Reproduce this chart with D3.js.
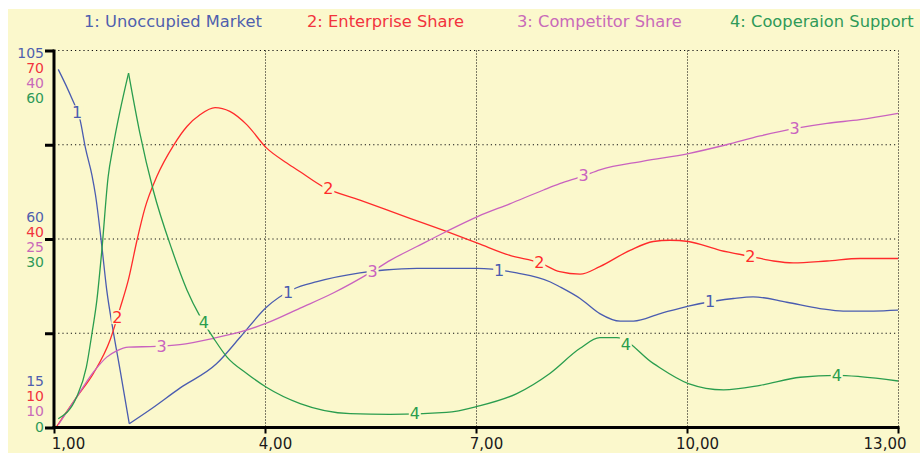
<!DOCTYPE html>
<html>
<head>
<meta charset="utf-8">
<script src="https://cdn.jsdelivr.net/npm/d3@7"></script>
<style>
  html, body { margin: 0; padding: 0; background: #ffffff; }
  svg { display: block; }
  text { font-family: "DejaVu Sans", Verdana, sans-serif; }
</style>
</head>
<body>
<svg id="chart" width="920" height="453"></svg>
<script>
// ---- data -------------------------------------------------------------
const seriesNames = [
  "1: Unoccupied Market",
  "2: Enterprise Share",
  "3: Competitor Share",
  "4: Cooperaion Support"
];

// [time, value] samples of each simulated stock
const unoccupiedMarket = [
  [1.06, 100.5], [1.25, 93.7], [1.37, 88.5], [1.45, 81.5], [1.54, 75.2],
  [1.59, 70.5], [1.68, 58.3], [1.75, 47.8], [1.84, 38.2], [1.94, 28.7],
  [2.07, 15.9], [2.37, 19.3], [2.79, 24.4], [3.31, 30.2], [3.65, 36.6],
  [4.02, 43.7], [4.40, 48.0], [4.74, 49.8], [5.35, 51.9], [5.70, 52.6],
  [6.16, 53.0], [7.01, 53.0], [7.58, 51.9], [8.05, 49.8], [8.19, 48.6],
  [8.48, 45.8], [8.76, 42.2], [9.05, 40.4], [9.24, 40.4], [9.62, 42.2],
  [10.02, 44.0], [10.40, 45.2], [10.66, 45.8], [10.94, 46.2], [11.42, 44.9],
  [11.89, 43.4], [12.22, 42.8], [12.65, 42.8], [13.0, 43.0]
];

const enterpriseShare = [
  [1.04, 10.2], [1.32, 14.8], [1.56, 18.6], [1.80, 24.0], [1.94, 29.0],
  [2.06, 33.6], [2.18, 39.8], [2.29, 44.8], [2.46, 49.9], [2.70, 54.9],
  [2.89, 57.9], [3.08, 59.8], [3.29, 60.9], [3.50, 60.3], [3.74, 58.2],
  [4.02, 54.5], [4.31, 52.1], [4.50, 50.7], [4.83, 48.3], [5.35, 46.2],
  [6.06, 43.3], [6.58, 41.2], [7.03, 39.3], [7.48, 37.4], [7.91, 36.2],
  [8.19, 34.8], [8.48, 34.4], [8.76, 35.6], [9.19, 38.2], [9.52, 39.6],
  [9.76, 39.8], [10.02, 39.6], [10.47, 38.2], [10.92, 37.2], [11.23, 36.5],
  [11.51, 36.2], [11.99, 36.5], [12.46, 36.9], [13.0, 36.9]
];

const competitorShare = [
  [1.06, 10.2], [1.32, 12.4], [1.56, 14.4], [1.75, 15.6], [1.89, 16.1],
  [2.06, 16.4], [2.45, 16.45], [2.79, 16.6], [3.27, 17.1], [3.65, 17.6],
  [4.02, 18.3], [4.50, 19.5], [4.97, 20.7], [5.52, 22.4], [5.78, 23.3],
  [6.16, 24.4], [6.58, 25.6], [7.03, 26.8], [7.48, 27.8], [7.96, 28.9],
  [8.19, 29.4], [8.52, 30.0], [8.76, 30.5], [9.38, 31.2], [10.02, 31.8],
  [10.56, 32.5], [11.04, 33.2], [11.54, 33.8], [11.99, 34.2], [12.46, 34.5],
  [13.0, 35.0]
];

const cooperationSupport = [
  [1.06, 1.4], [1.32, 4.8], [1.46, 9.6], [1.54, 15.0], [1.61, 20.3],
  [1.68, 28.2], [1.77, 39.9], [1.84, 44.7], [2.06, 56.4], [2.22, 46.9],
  [2.41, 37.8], [2.68, 28.2], [2.89, 21.9], [3.08, 17.6], [3.27, 14.2],
  [3.46, 11.2], [3.74, 8.6], [4.02, 6.4], [4.50, 3.8], [5.21, 2.2],
  [5.78, 2.1], [6.58, 2.4], [7.03, 3.4], [7.58, 5.4], [8.05, 8.6],
  [8.48, 12.6], [8.76, 14.3], [9.0, 14.3], [9.52, 10.2], [10.02, 7.0],
  [10.52, 6.0], [11.04, 6.7], [11.61, 8.0], [12.13, 8.3], [12.46, 8.1],
  [13.0, 7.4]
];

// scale labels of the left axis, one entry per series
const axisTopLabels    = [105, 70, 40, 60];
const axisMiddleLabels = [60, 40, 25, 30];
const axisBottomLabels = [15, 10, 10, 0];

const timeTicks = [1, 4, 7, 10, 13];

// times at which each curve carries its series number
const curveLabelTimes = [
  [1.33, 4.33, 7.33, 10.33],
  [1.90, 4.90, 7.90, 10.90],
  [2.53, 5.53, 8.53, 11.53],
  [3.13, 6.13, 9.13, 12.13]
];

// ---- styles -----------------------------------------------------------
const lineColors  = ["#4a5cb0", "#ff2b2b", "#c962bf", "#2a9d4e"];
const labelColors = ["#4f5fae", "#f2333d", "#c96ab9", "#2f9a58"];
const bgColor = "#fbf8cc";

// ---- layout -----------------------------------------------------------
const W = 920, H = 453;
const plot = { left: 54, right: 898, top: 50.5, bottom: 427.5 };

const svg = d3.select("#chart");
svg.append("rect")
  .attr("x", 8).attr("y", 9)
  .attr("width", W - 8).attr("height", H - 9)
  .attr("fill", bgColor);

const series = [unoccupiedMarket, enterpriseShare, competitorShare, cooperationSupport];

const x = d3.scaleLinear().domain([1, 13]).range([plot.left, plot.right]);
const yScales = axisBottomLabels.map((lo, i) =>
  d3.scaleLinear().domain([lo, axisTopLabels[i]]).range([plot.bottom, plot.top]));

// five equally spaced grid levels, expressed on the first series' scale
const gridValues = d3.range(5).map(i =>
  axisBottomLabels[0] + i * (axisTopLabels[0] - axisBottomLabels[0]) / 4);

// ---- grid -------------------------------------------------------------
const grid = svg.append("g");
grid.selectAll("line.h")
  .data(gridValues.slice(1))
  .join("line")
  .attr("x1", plot.left).attr("x2", plot.right)
  .attr("y1", d => yScales[0](d)).attr("y2", d => yScales[0](d))
  .attr("stroke", "#111").attr("stroke-width", 1.2)
  .attr("stroke-dasharray", "1.2,3");

grid.selectAll("line.v")
  .data(timeTicks.slice(1))
  .join("line")
  .attr("x1", d => Math.round(x(d)) + 0.5).attr("x2", d => Math.round(x(d)) + 0.5)
  .attr("y1", plot.top).attr("y2", plot.bottom)
  .attr("stroke", "#000").attr("stroke-width", 1)
  .attr("stroke-dasharray", "1,2");

// ---- curves -----------------------------------------------------------
// split a series at sharp extrema so the smoothing keeps those corners crisp
function segmentsOf(data, yScale) {
  const pts = data.map(d => [x(d[0]), yScale(d[1])]);
  const segs = [];
  let start = 0;
  for (let i = 1; i < pts.length - 1; i++) {
    const s1 = (pts[i][1] - pts[i - 1][1]) / (pts[i][0] - pts[i - 1][0]);
    const s2 = (pts[i + 1][1] - pts[i][1]) / (pts[i + 1][0] - pts[i][0]);
    if (Math.sign(s1) !== Math.sign(s2) && Math.min(Math.abs(s1), Math.abs(s2)) > 0.4) {
      segs.push(data.slice(start, i + 1));
      start = i;
    }
  }
  segs.push(data.slice(start));
  return segs;
}

const curves = svg.append("g");
series.forEach((data, i) => {
  const line = d3.line()
    .x(d => x(d[0]))
    .y(d => yScales[i](d[1]))
    .curve(d3.curveMonotoneX);
  segmentsOf(data, yScales[i]).forEach(seg => {
    curves.append("path")
      .attr("d", line(seg))
      .attr("fill", "none")
      .attr("stroke", lineColors[i])
      .attr("stroke-width", 1.3)
      .attr("stroke-linejoin", "round");
  });
});

// value of a series at a given time (linear between samples)
function valueAt(data, t) {
  const times = data.map(d => d[0]);
  const j = Math.max(1, Math.min(data.length - 1, d3.bisectLeft(times, t)));
  const a = data[j - 1], b = data[j];
  return a[1] + (b[1] - a[1]) * (t - a[0]) / (b[0] - a[0]);
}

// series numbers sitting on the curves
const marks = svg.append("g");
series.forEach((data, i) => {
  curveLabelTimes[i].forEach(t => {
    const cx = x(t), cy = yScales[i](valueAt(data, t));
    marks.append("rect")
      .attr("x", cx - 6).attr("y", cy - 7)
      .attr("width", 12).attr("height", 14)
      .attr("fill", bgColor);
    marks.append("text")
      .attr("x", cx).attr("y", cy)
      .attr("text-anchor", "middle")
      .attr("dominant-baseline", "central")
      .attr("font-size", 16)
      .attr("fill", lineColors[i])
      .text(i + 1);
  });
});

// ---- axes -------------------------------------------------------------
const fmtTime = d => d3.format(".2f")(d).replace(".", ",");

const xAxis = svg.append("g")
  .attr("transform", `translate(0,${plot.bottom})`)
  .call(d3.axisBottom(x).tickValues(timeTicks).tickSize(6).tickSizeOuter(0).tickFormat(fmtTime));
xAxis.select(".domain")
  .attr("d", `M${plot.left - 1.5},0H${plot.right + 1.5}`)
  .attr("stroke", "#000").attr("stroke-width", 3);
xAxis.selectAll(".tick line").attr("stroke", "#000").attr("stroke-width", 2);
xAxis.selectAll(".tick text")
  .attr("font-family", "DejaVu Sans, sans-serif")
  .attr("font-size", 15)
  .attr("fill", "#1a1a1a")
  .attr("y", 21.5)
  .attr("dy", 0)
  .attr("text-anchor", (d, k) => k === timeTicks.length - 1 ? "end" : "middle")
  .attr("dx", (d, k) => k === 0 ? 14 : (k === timeTicks.length - 1 ? 8 : 10));

const yAxis = svg.append("g")
  .attr("transform", `translate(${plot.left},0)`)
  .call(d3.axisLeft(yScales[0]).tickValues(gridValues).tickSize(9).tickSizeOuter(0).tickFormat(""));
yAxis.select(".domain")
  .attr("d", `M0,${plot.top - 1}V${plot.bottom + 1.5}`)
  .attr("stroke", "#000").attr("stroke-width", 3);
yAxis.selectAll(".tick line").attr("stroke", "#000").attr("stroke-width", 3);

// stacked scale labels: top group hangs below its tick, middle centred, bottom sits above
const labelStep = 15.3;
const stacks = [
  { values: axisTopLabels,    y0: yScales[0](axisTopLabels[0]) + 2 },
  { values: axisMiddleLabels, y0: yScales[0](gridValues[2]) - 1.5 * labelStep + 0.5 },
  { values: axisBottomLabels, y0: yScales[0](axisBottomLabels[0]) - 3 * labelStep - 1 }
];
const scaleLabels = svg.append("g");
stacks.forEach(st => {
  st.values.forEach((v, i) => {
    scaleLabels.append("text")
      .attr("x", 44)
      .attr("y", st.y0 + i * labelStep)
      .attr("text-anchor", "end")
      .attr("dominant-baseline", "central")
      .attr("font-size", 14)
      .attr("fill", labelColors[i])
      .text(v);
  });
});

// ---- legend -----------------------------------------------------------
const legendX = [84, 307, 517, 730];
svg.append("g").selectAll("text")
  .data(seriesNames)
  .join("text")
  .attr("x", (d, i) => legendX[i])
  .attr("y", 26.5)
  .attr("font-size", 16.3)
  .attr("fill", (d, i) => labelColors[i])
  .text(d => d);
</script>
</body>
</html>
